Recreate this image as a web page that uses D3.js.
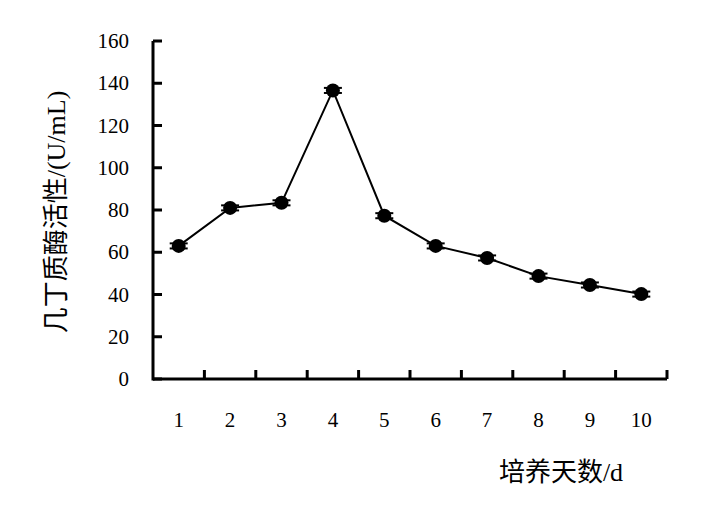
<!DOCTYPE html>
<html>
<head>
<meta charset="utf-8">
<script src="https://cdn.jsdelivr.net/npm/d3@7"></script>
<style>
  body { margin: 0; background: #fff; }
  #chart { width: 713px; height: 507px; }
</style>
</head>
<body>
<div id="chart"></div>
<script>
// datos
const days = ['1', '2', '3', '4', '5', '6', '7', '8', '9', '10'];
const activity = [63, 81, 83.4, 136.6, 77.3, 63, 57.3, 48.7, 44.5, 40.2];
const errors = [1.2, 1.2, 1.2, 1.2, 1.2, 1.2, 1.2, 1.2, 1.2, 1.2];
const yTicks = [0, 20, 40, 60, 80, 100, 120, 140, 160];

const SERIF = '"Liberation Serif", "Times New Roman", serif',
      CJK = '"Noto Sans CJK SC", sans-serif';

let margin = {top: 41, right: 46, bottom: 128, left: 153},
    width = 713 - margin.left - margin.right,
    height = 507 - margin.top - margin.bottom;

let svg = d3.select('#chart')
    .append('svg')
        .attr('width', 713)
        .attr('height', 507)
    .append('g')
        .attr('transform', 'translate(' + margin.left + ',' + margin.top + ')');

let x = d3.scaleBand()
    .domain(days)
    .range([0, width]);

let y = d3.scaleLinear()
    .domain([0, 160])
    .range([height, 0]);

// eje X: ticks entre categorías, hacia arriba
let xAxis = svg.append('g')
    .attr('transform', 'translate(0,' + height + ')');
xAxis.append('line')
    .attr('x1', 0).attr('x2', width)
    .attr('stroke', '#000').attr('stroke-width', 3);
xAxis.selectAll('.xt')
    .data(days)
    .enter().append('line')
    .attr('x1', d => x(d) + x.bandwidth())
    .attr('x2', d => x(d) + x.bandwidth())
    .attr('y1', 0).attr('y2', -9)
    .attr('stroke', '#000').attr('stroke-width', 3);
xAxis.selectAll('.xl')
    .data(days)
    .enter().append('text')
    .attr('x', d => x(d) + x.bandwidth() / 2)
    .attr('y', 48)
    .attr('text-anchor', 'middle')
    .attr('font-family', SERIF)
    .attr('font-size', 21)
    .text(d => d);

// eje Y: línea y ticks hacia dentro
let yAxis = svg.append('g');
yAxis.append('line')
    .attr('y1', 0).attr('y2', height + 1.5)
    .attr('stroke', '#000').attr('stroke-width', 3);
yAxis.selectAll('.yt')
    .data(yTicks)
    .enter().append('line')
    .attr('x1', 0).attr('x2', 9)
    .attr('y1', d => y(d)).attr('y2', d => y(d))
    .attr('stroke', '#000').attr('stroke-width', 3);
yAxis.selectAll('.yl')
    .data(yTicks)
    .enter().append('text')
    .attr('x', -24)
    .attr('y', d => y(d) + 7)
    .attr('text-anchor', 'end')
    .attr('font-family', SERIF)
    .attr('font-size', 21)
    .text(d => d);

// línea
svg.append('path')
    .datum(activity)
    .attr('fill', 'none')
    .attr('stroke', '#000')
    .attr('stroke-width', 2)
    .attr('d', d3.line()
        .x((d, i) => x(days[i]) + x.bandwidth() / 2)
        .y(d => y(d)));

// barras de error
let err = svg.selectAll('.err')
    .data(activity)
    .enter().append('g')
    .attr('transform', (d, i) => 'translate(' + (x(days[i]) + x.bandwidth() / 2) + ',0)');
err.append('line')
    .attr('x1', 0).attr('x2', 0)
    .attr('y1', (d, i) => y(d - errors[i]))
    .attr('y2', (d, i) => y(d + errors[i]))
    .attr('stroke', '#000').attr('stroke-width', 2);
err.append('line')
    .attr('x1', -9).attr('x2', 9)
    .attr('y1', (d, i) => y(d - errors[i]))
    .attr('y2', (d, i) => y(d - errors[i]))
    .attr('stroke', '#000').attr('stroke-width', 2);
err.append('line')
    .attr('x1', -9).attr('x2', 9)
    .attr('y1', (d, i) => y(d + errors[i]))
    .attr('y2', (d, i) => y(d + errors[i]))
    .attr('stroke', '#000').attr('stroke-width', 2);

// puntos
svg.selectAll('.pt')
    .data(activity)
    .enter().append('circle')
    .attr('cx', (d, i) => x(days[i]) + x.bandwidth() / 2)
    .attr('cy', d => y(d))
    .attr('r', 7)
    .attr('fill', '#000');

// títulos de ejes (chino + latín en serif)
function mixedTitle(sel, zh, latin) {
    sel.append('tspan').attr('font-family', CJK).text(zh);
    sel.append('tspan').attr('font-family', SERIF).text(latin);
}

svg.append('text')
    .attr('x', 408)
    .attr('y', height + 102)
    .attr('text-anchor', 'middle')
    .attr('font-size', 26)
    .call(mixedTitle, '培养天数', '/d');

svg.append('text')
    .attr('transform', 'translate(-88,' + (height / 2 + 2) + ') rotate(-90)')
    .attr('text-anchor', 'middle')
    .attr('font-size', 26)
    .call(mixedTitle, '几丁质酶活性', '/(U/mL)');
</script>
</body>
</html>
